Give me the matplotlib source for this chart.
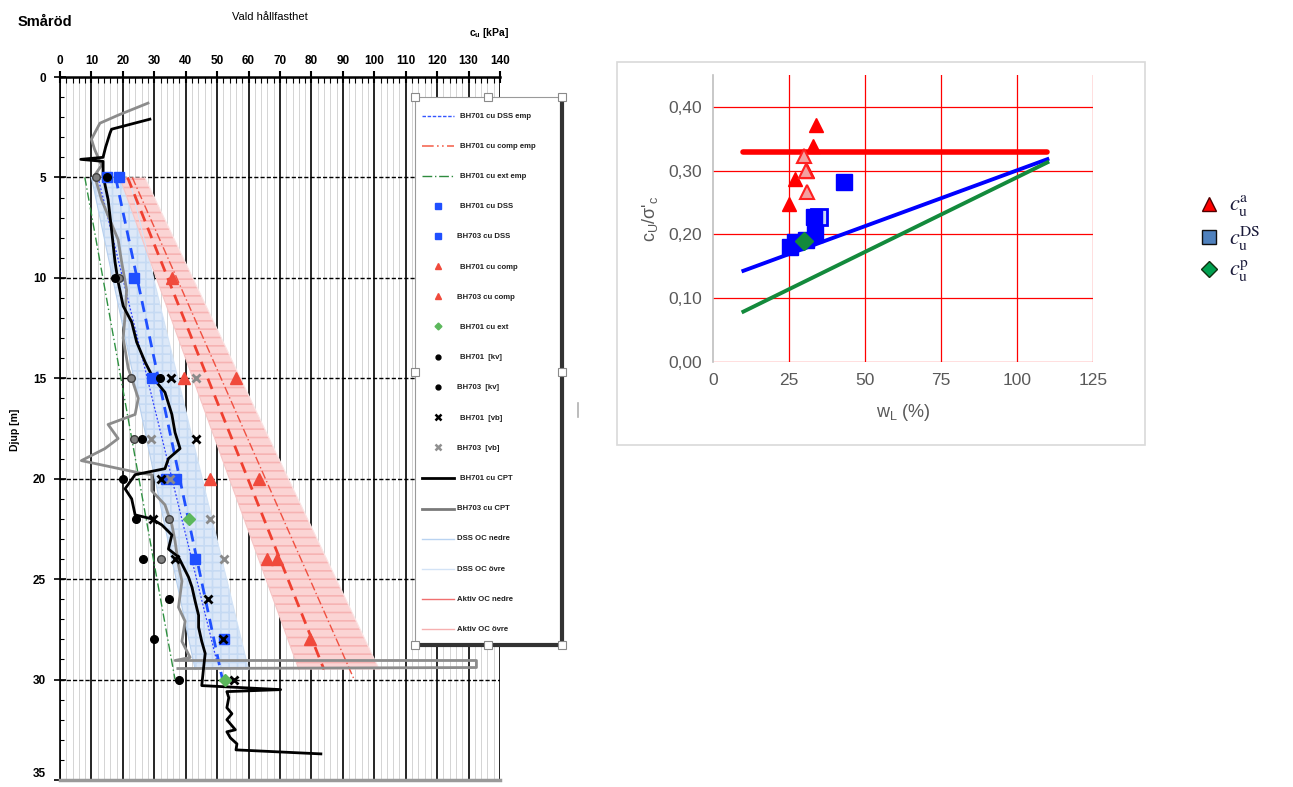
import matplotlib
matplotlib.use('Agg')
import matplotlib.pyplot as plt
from matplotlib.lines import Line2D
from matplotlib.patches import Rectangle
from matplotlib.ticker import MultipleLocator

plt.rcParams['font.family'] = ['Liberation Sans', 'DejaVu Sans']
plt.rcParams['mathtext.default'] = 'regular'
plt.rcParams['hatch.linewidth'] = 1.2

# ---------------- Left chart data (cu [kPa] vs depth [m]) ----------------
cpt701_cu = [28.6, 16.4, 15.9, 14.5, 13.7, 6.6, 13.7, 13.7, 15.3, 16.4, 17.5, 18.5, 20.1, 22.8, 24.4, 27.1,
             29.7, 33.4, 35.6, 36.6, 38.2, 34.5, 33.4, 27.0, 23.9, 20.7, 22.8, 23.9, 29.2, 32.4, 35.6, 34.5,
             37.7, 39.3, 40.9, 42.0, 43.0, 44.1, 44.1, 45.1, 46.2, 45.7, 45.1, 70.2, 53.1, 53.7, 53.1, 54.7,
             53.1, 55.8, 53.1, 54.2, 56.3, 56.0, 83.0]
cpt701_z = [2.1, 2.6, 2.8, 3.5, 4.0, 4.1, 4.2, 4.9, 6.1, 7.6, 9.2, 10.2, 11.4, 12.2, 13.2, 14.2,
            15.0, 15.7, 16.8, 17.7, 18.5, 19.0, 19.5, 19.7, 19.8, 20.5, 21.0, 21.8, 22.0, 22.3, 22.8, 23.5,
            23.9, 24.4, 24.9, 25.4, 26.1, 26.8, 27.4, 28.1, 28.7, 29.4, 30.3, 30.5, 30.6, 30.9, 31.4, 31.7,
            32.0, 32.5, 32.6, 32.9, 33.2, 33.5, 33.7]

cpt703_cu = [28.0, 18.5, 12.7, 10.0, 11.0, 13.2, 11.0, 13.2, 15.3, 18.5, 19.6, 21.2, 20.7, 20.1, 21.7,
             22.8, 24.9, 23.9, 15.3, 18.5, 14.3, 6.8, 24.9, 29.2, 29.2, 33.4, 35.6, 36.6, 37.7, 38.8,
             37.7, 39.8, 38.8, 41.4, 36.6, 132.5, 132.5, 37.5]
cpt703_z = [1.3, 1.9, 2.3, 3.1, 3.6, 4.4, 4.9, 6.1, 6.9, 8.1, 9.2, 10.6, 11.9, 13.0, 14.5,
            15.0, 16.0, 16.8, 17.3, 18.0, 18.5, 19.1, 19.7, 19.8, 20.6, 21.3, 22.3, 23.1, 24.3, 25.1,
            26.4, 27.1, 28.1, 28.9, 29.05, 29.05, 29.4, 29.45]

emp_z = [5.0, 30.0]
dss_emp_cu = [17.7, 51.7]
comp_emp_cu = [23.0, 93.6]
ext_emp_cu = [7.9, 36.6]
dss_mid_z = [5.0, 29.1]
dss_mid_cu = [12.1, 49.9]
comp_mid_z = [5.0, 29.5]
comp_mid_cu = [21.5, 84.0]

band_z = [5.0, 29.5]
dss_lo = [10.0, 43.0]
dss_hi = [22.0, 60.0]
akt_lo = [19.0, 76.0]
akt_hi = [27.0, 101.6]

dss701_z = [5, 10, 15, 20, 24, 28]
dss701_cu = [18.8, 23.6, 29.2, 36.9, 43.0, 52.1]
dss703_z = [5, 20]
dss703_cu = [15.0, 33.7]

comp701_z = [10, 15, 20, 24, 28]
comp701_cu = [35.6, 56.0, 63.3, 69.1, 79.7]
comp703_z = [15, 20, 24]
comp703_cu = [39.6, 47.8, 65.9]

ext701_z = [22, 30]
ext701_cu = [41.1, 52.6]

kv701_z = [5, 10, 15, 18, 20, 22, 24, 26, 28, 30]
kv701_cu = [15.1, 17.5, 31.8, 26.2, 20.1, 24.1, 26.3, 34.8, 29.9, 37.9]
kv703_z = [5, 10, 15, 18, 22, 24]
kv703_cu = [11.3, 18.7, 22.5, 23.6, 34.8, 32.2]

vb701_z = [15, 18, 20, 22, 24, 26, 28, 30]
vb701_cu = [35.2, 43.3, 32.0, 29.5, 36.6, 47.0, 51.8, 55.5]
vb703_z = [15, 18, 20, 22, 24]
vb703_cu = [43.4, 28.9, 35.0, 47.6, 52.3]

legend_labels = ['BH701 cu DSS emp', 'BH701 cu comp emp', 'BH701 cu ext emp', 'BH701 cu DSS',
                 'BH703 cu DSS', 'BH701 cu comp', 'BH703 cu comp', 'BH701 cu ext', 'BH701  [kv]',
                 'BH703  [kv]', 'BH701  [vb]', 'BH703  [vb]', 'BH701 cu CPT', 'BH703 cu CPT',
                 'DSS OC nedre', 'DSS OC övre', 'Aktiv OC nedre', 'Aktiv OC övre']

# ---------------- Right chart data ----------------
wl_line = [10, 110]
ratio_red = [0.33, 0.33]
ratio_blue = [0.143, 0.318]
ratio_green = [0.079, 0.313]

tri_wl = [34, 33, 31, 27, 25]
tri_r = [0.372, 0.339, 0.300, 0.287, 0.247]
tri_light_wl = [30, 30.5, 31]
tri_light_r = [0.323, 0.300, 0.267]
sq_wl = [43, 33.3, 25.4, 27.1, 30.7, 33.6]
sq_r = [0.283, 0.227, 0.180, 0.188, 0.192, 0.201]
sq_light_wl = [35]
sq_light_r = [0.228]
dia_wl = [30]
dia_r = [0.19]

# ---------------- Figure ----------------
W, H = 1293, 787
fig = plt.figure(figsize=(W / 100, H / 100), dpi=100)


def fr(x0, y0, x1, y1):
    return [x0 / W, 1 - y1 / H, (x1 - x0) / W, (y1 - y0) / H]


# ---- Left axes ----
ax = fig.add_axes(fr(60, 77, 500, 780))
ax.set_xlim(0, 140)
ax.set_ylim(35, 0)
ax.set_axisbelow(True)
ax.xaxis.tick_top()
ax.set_xticks(range(0, 141, 10))
ax.xaxis.set_minor_locator(MultipleLocator(2))
ax.set_yticks(range(0, 36, 5))
ax.yaxis.set_minor_locator(MultipleLocator(1))
ax.tick_params(axis='x', which='major', direction='inout', length=8, width=1.5, pad=3,
               labelsize=8.5, top=True, bottom=False)
ax.tick_params(axis='x', which='minor', direction='in', length=4, width=0.8, top=True, bottom=False)
ax.tick_params(axis='y', which='major', direction='inout', length=8, width=1.2, labelsize=8.5, pad=6)
ax.tick_params(axis='y', which='minor', direction='in', length=3, width=0.8)
for lab in ax.get_xticklabels() + ax.get_yticklabels():
    lab.set_fontweight('bold')
ax.get_yticklabels()[-1].set_va('bottom')
ax.xaxis.grid(True, which='major', color='black', lw=1.2)
ax.xaxis.grid(True, which='minor', color='#d4d4d4', lw=0.7)
ax.yaxis.grid(True, which='major', color='black', lw=1.0, ls=(0, (3, 1.5)))
ax.spines['top'].set_linewidth(1.8)
ax.spines['left'].set_linewidth(1.2)
ax.spines['right'].set_visible(False)
ax.spines['bottom'].set_color('#9a9a9a')
ax.spines['bottom'].set_linewidth(2.5)

# bands
ax.fill_betweenx(band_z, dss_lo, dss_hi, facecolor='#dce8f8', edgecolor='#c6daf3', hatch='++',
                 linewidth=0, zorder=2)
ax.fill_betweenx(band_z, akt_lo, akt_hi, facecolor='#fbd4d4', edgecolor='#f6b3b3', hatch='--',
                 linewidth=0, zorder=2)
ax.plot(dss_lo, band_z, color='#b7d0ee', lw=0.8, zorder=2.5)
ax.plot(dss_hi, band_z, color='#d3e3f6', lw=0.8, zorder=2.5)
ax.plot(akt_lo, band_z, color='#f6c6c6', lw=0.8, zorder=2.5)
ax.plot(akt_hi, band_z, color='#fbe3e3', lw=0.8, zorder=2.5)

# empirical lines
ax.plot(ext_emp_cu, emp_z, color='#2e9040', lw=1.0, ls=(0, (6, 2, 1, 2)), zorder=3)
ax.plot(dss_mid_cu, dss_mid_z, color='#3040ff', lw=0.9, ls=(0, (1.5, 1.5)), zorder=3)
ax.plot(dss_emp_cu, emp_z, color='#2050ff', lw=2.0, ls=(0, (4, 2.5)), zorder=3)
ax.plot(comp_emp_cu, emp_z, color='#f05040', lw=1.0, ls=(0, (6, 2, 1, 2)), zorder=3)
ax.plot(comp_mid_cu, comp_mid_z, color='#f04030', lw=2.0, ls=(0, (4, 2.5)), zorder=3)

# CPT lines
ax.plot(cpt703_cu, cpt703_z, color='#8c8c8c', lw=2.0, zorder=4)
ax.plot(cpt701_cu, cpt701_z, color='black', lw=2.0, zorder=4.5)

# markers
ax.plot(dss701_cu, dss701_z, 's', color='#1f4fff', ms=7.5, zorder=5)
ax.plot(dss703_cu, dss703_z, 's', color='#1f4fff', ms=7.5, zorder=5)
ax.plot(comp701_cu, comp701_z, '^', color='#f04a3c', ms=8, zorder=5)
ax.plot(comp703_cu, comp703_z, '^', color='#f04a3c', ms=8, zorder=5)
ax.plot(ext701_cu, ext701_z, 'D', color='#5cb85c', ms=6, zorder=5)
ax.plot(kv703_cu, kv703_z, 'o', color='#808080', mec='#404040', ms=5.5, zorder=6)
ax.plot(kv701_cu, kv701_z, 'o', color='black', ms=5.5, zorder=6)
ax.plot(vb703_cu, vb703_z, 'x', color='#8a8a8a', ms=6, mew=2, zorder=6)
ax.plot(vb701_cu, vb701_z, 'x', color='black', ms=6, mew=2, zorder=6)

# ---- Left legend box ----
lg = fig.add_axes(fr(415, 97, 562, 645))
lg.set_xlim(415, 562)
lg.set_ylim(645, 97)
lg.set_xticks([])
lg.set_yticks([])
lg.patch.set_facecolor('white')
lg.spines['left'].set_color('#9a9a9a')
lg.spines['top'].set_color('#9a9a9a')
lg.spines['right'].set_color('#333333')
lg.spines['right'].set_linewidth(3)
lg.spines['bottom'].set_color('#333333')
lg.spines['bottom'].set_linewidth(3)
lg.set_zorder(10)

styles = [
    dict(kind='line', color='#3355ff', lw=1.0, ls=(0, (2.5, 1.2))),
    dict(kind='line', color='#f56a55', lw=1.2, ls=(0, (7, 2, 1, 2, 1, 2))),
    dict(kind='line', color='#2e8b3e', lw=1.0, ls=(0, (7, 2, 1, 2))),
    dict(kind='mark', marker='s', color='#1f4fff', ms=4),
    dict(kind='mark', marker='s', color='#1f4fff', ms=4),
    dict(kind='mark', marker='^', color='#f04a3c', ms=5),
    dict(kind='mark', marker='^', color='#f04a3c', ms=5),
    dict(kind='mark', marker='D', color='#5cb85c', ms=3.5),
    dict(kind='mark', marker='o', color='black', ms=3.5),
    dict(kind='mark', marker='o', color='black', ms=3.5),
    dict(kind='mark', marker='x', color='black', ms=4, mew=1.8),
    dict(kind='mark', marker='x', color='#909090', ms=4, mew=1.8),
    dict(kind='line', color='black', lw=2.0, ls='-'),
    dict(kind='line', color='#7a7a7a', lw=2.0, ls='-'),
    dict(kind='line', color='#b9d3f1', lw=1.0, ls='-'),
    dict(kind='line', color='#d3e3f6', lw=1.0, ls='-'),
    dict(kind='line', color='#f07070', lw=1.0, ls='-'),
    dict(kind='line', color='#f6b0b0', lw=1.0, ls='-'),
]
text_x = [460, 460, 460, 460, 457, 460, 457, 460, 460, 457, 460, 457, 460, 457, 457, 457, 457, 457]
for i, (lab, st) in enumerate(zip(legend_labels, styles)):
    y = 116 + i * 30.2
    if st['kind'] == 'line':
        lg.plot([422, 454], [y, y], color=st['color'], lw=st['lw'], ls=st['ls'])
    else:
        lg.plot([438], [y - 1], st['marker'], color=st['color'], ms=st['ms'], mew=st.get('mew', 1))
    lg.text(text_x[i], y, lab, fontsize=5.6, fontweight='bold', va='center', ha='left', color='#202020')

for hx, hy in [(415, 97), (488, 97), (562, 97), (415, 372), (562, 372), (415, 645), (488, 645), (562, 645)]:
    lg.plot([hx], [hy], 's', ms=6, mfc='white', mec='#8a8a8a', mew=0.8, clip_on=False, zorder=20)

# ---- Left texts ----
fig.text(18 / W, 1 - 22 / H, 'Småröd', fontsize=10.5, fontweight='bold', va='center', ha='left')
fig.text(270 / W, 1 - 17 / H, 'Vald hållfasthet', fontsize=8, va='center', ha='center')
fig.text(489 / W, 1 - 33 / H, r'c$_{\mathregular{u}}$ [kPa]', fontsize=7.5, fontweight='bold',
         va='center', ha='center')
fig.text(15 / W, 1 - 430 / H, 'Djup [m]', fontsize=7.5, fontweight='bold', rotation=90,
         va='center', ha='center')
fig.add_artist(Line2D([578 / W, 578 / W], [1 - 403 / H, 1 - 417 / H], color='#b0b0b0', lw=1.2))

# ---- Right chart frame ----
fig.add_artist(Rectangle((617 / W, 1 - 445 / H), (1145 - 617) / W, (445 - 62) / H,
                         transform=fig.transFigure, fill=False, edgecolor='#d9d9d9', lw=1.2))

ax2 = fig.add_axes(fr(713, 75, 1093, 362))
ax2.set_xlim(0, 125)
ax2.set_ylim(0, 0.45)
ax2.set_xticks([0, 25, 50, 75, 100, 125])
ax2.set_yticks([0, 0.1, 0.2, 0.3, 0.4])
ax2.set_yticklabels(['0,00', '0,10', '0,20', '0,30', '0,40'])
ax2.tick_params(length=0, labelsize=12.5, labelcolor='#595959', pad=8)
for s in ['top', 'right', 'bottom']:
    ax2.spines[s].set_visible(False)
ax2.spines['left'].set_color('#bfbfbf')
ax2.spines['left'].set_linewidth(1.2)
ax2.set_axisbelow(True)
for xv in [25, 50, 75, 100, 125]:
    ax2.axvline(xv, color='#ff0000', lw=0.9, zorder=0)
for yv in [0, 0.1, 0.2, 0.3, 0.4]:
    ax2.plot([0, 125], [yv, yv], color='#ff0000', lw=0.9, zorder=0)

ax2.plot(wl_line, ratio_red, color='#ff0000', lw=4, solid_capstyle='round', zorder=3)
ax2.plot(wl_line, ratio_blue, color='#0000ff', lw=2.8, zorder=3)
ax2.plot(wl_line, ratio_green, color='#138a3c', lw=2.8, zorder=3)

ax2.plot(tri_wl, tri_r, '^', color='#ff0000', ms=10, zorder=4)
ax2.plot(tri_light_wl, tri_light_r, '^', mfc='#f4a0a0', mec='#ff2020', mew=1.5, ms=10, zorder=4)
ax2.plot(sq_light_wl, sq_light_r, 's', mfc='#c8d8f4', mec='#0000ff', mew=2, ms=11, zorder=4)
ax2.plot(sq_wl, sq_r, 's', color='#0000ff', ms=12, zorder=5)
ax2.plot(dia_wl, dia_r, 'D', color='#138a3c', ms=9, zorder=6)

ax2.set_xlabel(r'w$_{\mathregular{L}}$ (%)', fontsize=13, color='#595959', labelpad=10)
ax2.set_ylabel(r"c$_{\mathregular{U}}$/σ'$_{\mathregular{c}}$", fontsize=13, color='#595959', labelpad=6)

# ---- Right legend ----
rl = fig.add_axes(fr(1188, 180, 1293, 290))
rl.set_xlim(1188, 1293)
rl.set_ylim(290, 180)
rl.axis('off')
leg2_y = [204, 237, 269]
leg2_marks = [('^', '#ff0000', '#500000', 10), ('s', '#4f81bd', '#101010', 10), ('D', '#00a050', '#103010', 8)]
leg2_labels = [r'$\mathit{c}_{\mathrm{u}}^{\mathrm{a}}$', r'$\mathit{c}_{\mathrm{u}}^{\mathrm{DS}}$',
               r'$\mathit{c}_{\mathrm{u}}^{\mathrm{p}}$']
for y, (m, fc, ec, ms), lab in zip(leg2_y, leg2_marks, leg2_labels):
    rl.plot([1209], [y], m, mfc=fc, mec=ec, mew=1, ms=ms)
    rl.text(1229, y + 2, lab, fontsize=16, va='center', ha='left', color='#1a1a3a',
            math_fontfamily='stix')

fig.savefig('out.png', dpi=100)
